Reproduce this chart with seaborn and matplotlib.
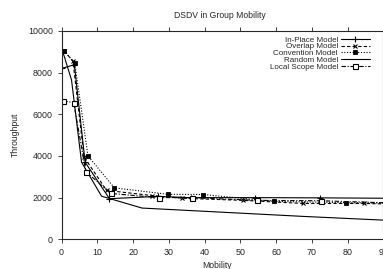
import numpy as np
import pandas as pd
import seaborn as sns
import matplotlib.pyplot as plt

# values
inplace_x = [0, 3.6, 6.6, 13.4, 27.0, 36.2, 54.2, 72.2, 91.0]
inplace_y = [8200, 8380, 3700, 1950, 2060, 2000, 2000, 1990, 1970]
overlap_x = [0.7, 3.2, 6.3, 12.6, 25.3, 33.8, 50.7, 67.6, 84.5, 95.0]
overlap_y = [9050, 8550, 3950, 2350, 2100, 1970, 1870, 1720, 1720, 1680]
convention_x = [0.8, 3.7, 7.4, 14.8, 29.8, 39.6, 59.4, 79.4, 99.0]
convention_y = [9050, 8450, 4000, 2470, 2160, 2150, 1820, 1760, 1720]
random_x = [0, 2.8, 5.6, 11.2, 22.5, 45.0, 67.5, 90.0]
random_y = [9200, 7650, 3700, 2070, 1500, 1300, 1100, 920]
local_x = [0.5, 3.4, 6.8, 13.8, 27.3, 36.4, 54.6, 72.5, 91.0]
local_y = [6640, 6560, 3250, 2200, 2000, 2000, 1870, 1850, 1750]

sns.set_style('ticks')
plt.rcParams['font.family'] = ['Liberation Sans', 'DejaVu Sans']

fig = plt.figure(figsize=(3.83, 2.69), dpi=100)
ax = fig.add_axes([0.1606, 0.1104, 0.8405, 0.7744])

lw = 0.8
common = dict(ax=ax, color='black', lw=lw, mec='black')
sns.lineplot(x=inplace_x, y=inplace_y, ls='-', marker='+', ms=4, mew=0.8,
             label='In-Place Model', **common)
sns.lineplot(x=overlap_x, y=overlap_y, ls=(0, (3, 2)), marker='x', ms=3.2, mew=0.8,
             label='Overlap Model', **common)
sns.lineplot(x=convention_x, y=convention_y, ls=(0, (1, 1.5)), marker='s', ms=2.8,
             mew=0.6, mfc='black', label='Convention Model', **common)
sns.lineplot(x=random_x, y=random_y, ls='-', label='Random Model', **common)
sns.lineplot(x=local_x, y=local_y, ls=(0, (4, 1.5, 1, 1.5)), marker='s', ms=3.6,
             mew=0.8, mfc='white', label='Local Scope Model', **common)

ax.set_xlim(0, 90)
ax.set_ylim(0, 10000)
ax.set_xticks(np.arange(0, 91, 10))
ax.set_yticks(np.arange(0, 10001, 2000))
ax.tick_params(direction='out', length=3, width=0.6, labelsize=6.4,
               top=True, right=True, pad=3.2)
for s in ax.spines.values():
    s.set_linewidth(0.8)

ax.set_xlabel('Mobility', fontsize=6.2)
ax.xaxis.set_label_coords(0.482, -0.104)
ax.set_ylabel('Throughput', fontsize=6.2)
ax.yaxis.set_label_coords(-0.13, 0.5)
fig.text(220 / 383, 1 - 15 / 269, 'DSDV in Group Mobility', fontsize=6.2,
         ha='center', va='center')

leg = ax.legend(loc='upper right', frameon=False, markerfirst=False, fontsize=5.8,
                handlelength=3.6, labelspacing=-0.1, handletextpad=0.37,
                borderpad=0, borderaxespad=0, bbox_to_anchor=(0.958, 0.976))

fig.savefig('out.png', dpi=100)
